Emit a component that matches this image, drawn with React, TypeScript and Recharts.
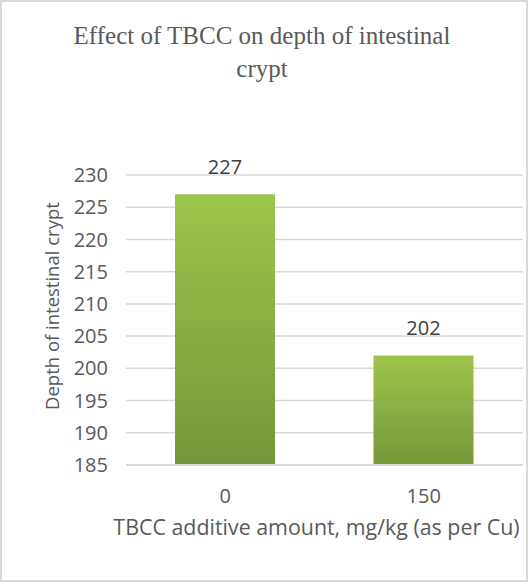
import { Bar, BarChart, CartesianGrid, LabelList, XAxis, YAxis } from "recharts";

const doses = ["0", "150"];
const cryptDepth = [227, 202];
const yTicks = [185, 190, 195, 200, 205, 210, 215, 220, 225, 230];

const textColor = "#595959";
const font = "'Open Sans', sans-serif";

export default function App() {
  const data = doses.map((dose, i) => ({ dose, depth: cryptDepth[i] }));

  return (
    <div
      style={{
        position: "absolute",
        left: 0,
        top: 0,
        width: 532,
        height: 584,
        background: "#fff",
      }}
    >
      <div
        style={{
          position: "absolute",
          left: 0,
          top: 0,
          width: 528,
          height: 582,
          boxSizing: "border-box",
          border: "2px solid #d9d9d9",
        }}
      />
      <div
        style={{
          position: "absolute",
          left: -2,
          top: 19,
          width: 528,
          textAlign: "center",
          fontFamily: "'Liberation Serif', 'Times New Roman', serif",
          fontSize: 25,
          lineHeight: "33px",
          color: textColor,
        }}
      >
        Effect of TBCC on depth of intestinal
        <br />
        crypt
      </div>
      <BarChart
        width={532}
        height={584}
        data={data}
        margin={{ top: 175, right: 9, left: 60, bottom: 0 }}
        barCategoryGap="25%"
        style={{ position: "absolute", left: 0, top: 0 }}
      >
        <defs>
          <linearGradient id="barFill" x1="0" y1="0" x2="0" y2="1">
            <stop offset="0%" stopColor="#9dc54a" />
            <stop offset="100%" stopColor="#76963a" />
          </linearGradient>
        </defs>
        <CartesianGrid vertical={false} stroke="#d9d9d9" strokeWidth={1.5} />
        <XAxis
          dataKey="dose"
          axisLine={{ stroke: "#d9d9d9", strokeWidth: 2 }}
          tickLine={false}
          tickSize={0}
          tickMargin={24}
          tick={{ fill: textColor, fontSize: 20, fontFamily: font }}
          label={{
            value: "TBCC additive amount, mg/kg (as per Cu)",
            position: "insideBottom",
            offset: 49,
            dx: -8,
            fill: textColor,
            fontSize: 21.4,
            fontFamily: font,
          }}
          height={119}
        />
        <YAxis
          width={66}
          domain={[185, 230]}
          ticks={yTicks}
          interval={0}
          axisLine={false}
          tickLine={false}
          tickSize={0}
          tickMargin={18}
          tick={{ fill: textColor, fontSize: 20, fontFamily: font }}
          label={{
            value: "Depth of intestinal crypt",
            angle: -90,
            position: "insideLeft",
            offset: -8,
            dy: 90,
            fill: textColor,
            fontSize: 18.5,
            fontFamily: font,
          }}
        />
        <Bar dataKey="depth" fill="url(#barFill)" barSize={100} isAnimationActive={false}>
          <LabelList
            dataKey="depth"
            position="top"
            offset={20}
            fill="#404040"
            fontSize={20}
            fontFamily={font}
          />
        </Bar>
      </BarChart>
    </div>
  );
}
